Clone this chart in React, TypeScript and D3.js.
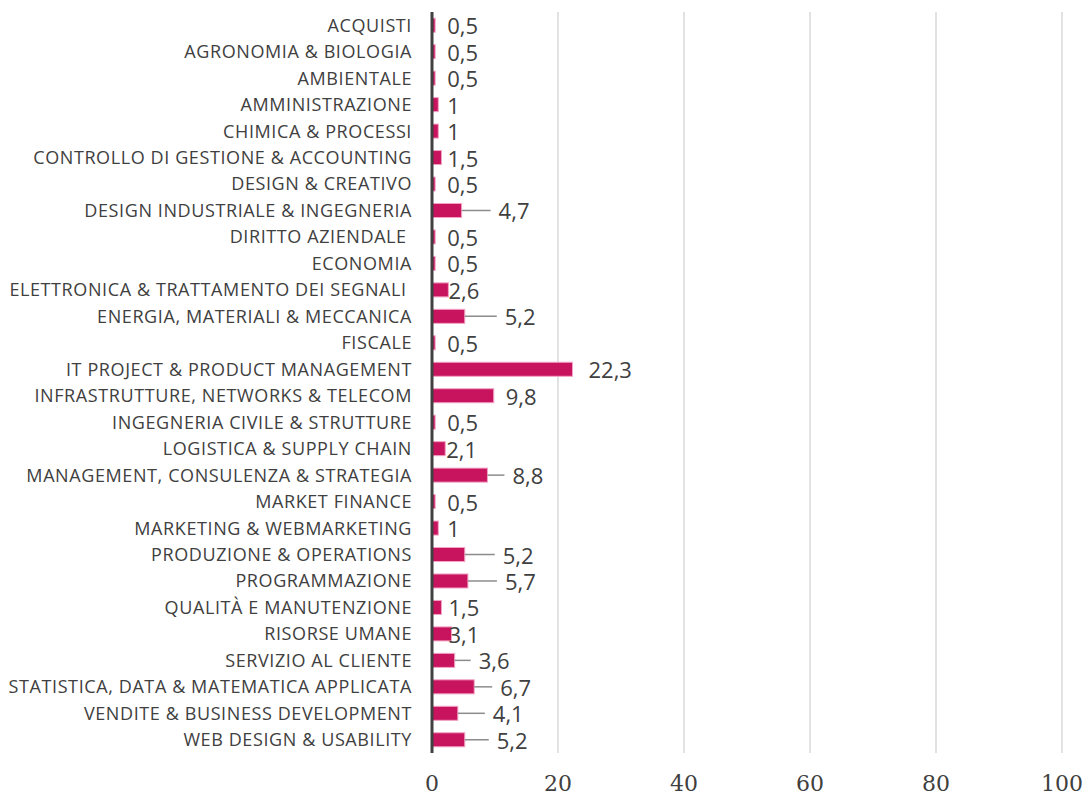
import React from "react";
import * as d3 from "d3";

const categories = [
  "ACQUISTI",
  "AGRONOMIA & BIOLOGIA",
  "AMBIENTALE",
  "AMMINISTRAZIONE",
  "CHIMICA & PROCESSI",
  "CONTROLLO DI GESTIONE & ACCOUNTING",
  "DESIGN & CREATIVO",
  "DESIGN INDUSTRIALE & INGEGNERIA",
  "DIRITTO AZIENDALE ",
  "ECONOMIA",
  "ELETTRONICA & TRATTAMENTO DEI SEGNALI ",
  "ENERGIA, MATERIALI & MECCANICA",
  "FISCALE",
  "IT PROJECT & PRODUCT MANAGEMENT",
  "INFRASTRUTTURE, NETWORKS & TELECOM",
  "INGEGNERIA CIVILE & STRUTTURE",
  "LOGISTICA & SUPPLY CHAIN",
  "MANAGEMENT, CONSULENZA & STRATEGIA",
  "MARKET FINANCE",
  "MARKETING & WEBMARKETING",
  "PRODUZIONE & OPERATIONS",
  "PROGRAMMAZIONE",
  "QUALITÀ E MANUTENZIONE",
  "RISORSE UMANE",
  "SERVIZIO AL CLIENTE",
  "STATISTICA, DATA & MATEMATICA APPLICATA",
  "VENDITE & BUSINESS DEVELOPMENT",
  "WEB DESIGN & USABILITY",
];

const values = [
  0.5, 0.5, 0.5, 1, 1, 1.5, 0.5, 4.7, 0.5, 0.5, 2.6, 5.2, 0.5, 22.3, 9.8, 0.5,
  2.1, 8.8, 0.5, 1, 5.2, 5.7, 1.5, 3.1, 3.6, 6.7, 4.1, 5.2,
];

const valueLabels = values.map((v) => String(v).replace(".", ","));

const xTicks = [0, 20, 40, 60, 80, 100];

// label placement offsets (px from bar end) and whether a leader line is drawn
const labelOffset = [
  12, 12, 12, 9, 9, 6, 12, 37, 12, 12, 0, 40, 12, 16, 12, 12, 1, 25, 12, 9, 38,
  37, 7, -3, 24, 26, 35, 32,
];
const hasLeader = [
  0, 0, 0, 0, 0, 0, 0, 1, 0, 0, 0, 1, 0, 0, 0, 0, 0, 1, 0, 0, 1, 1, 0, 0, 1, 1,
  1, 1,
];

export default function App() {
  const W = 1088;
  const H = 796;
  const x = d3.scaleLinear().domain([0, 100]).range([432, 1062]);
  const y = d3
    .scaleBand<string>()
    .domain(categories)
    .range([12, 753])
    .paddingInner(0.47)
    .paddingOuter(0.235);
  const textColor = "#404040";

  return (
    <svg
      width={W}
      height={H}
      style={{ position: "absolute", left: 0, top: 0, background: "#fff" }}
    >
      {xTicks.slice(1).map((t) => (
        <line
          key={"g" + t}
          x1={x(t)}
          x2={x(t)}
          y1={12}
          y2={753}
          stroke="#D9D9D9"
          strokeWidth={1.5}
        />
      ))}
      {categories.map((c, i) => {
        const yc = (y(c) as number) + y.bandwidth() / 2;
        const x0 = x(0);
        const x1 = x(values[i]);
        const lx = x1 + labelOffset[i];
        return (
          <g key={c}>
            <rect
              x={x0}
              y={y(c)}
              width={x1 - x0}
              height={y.bandwidth()}
              fill="#C8135F"
              stroke="#F2A3C4"
              strokeWidth={1}
            />
            {hasLeader[i] ? (
              <line
                x1={x1}
                x2={lx - 8}
                y1={yc}
                y2={yc}
                stroke="#8C8C8C"
                strokeWidth={1.5}
              />
            ) : null}
            <text
              x={lx}
              y={yc + 9}
              fontFamily="'Open Sans', sans-serif"
              fontSize={22}
              fill={textColor}
            >
              {valueLabels[i]}
            </text>
            <text
              x={412}
              y={yc}
              dy="0.36em"
              textAnchor="end"
              fontFamily="'Open Sans', sans-serif"
              fontSize={18}
              letterSpacing={0.6}
              fill={textColor}
              xmlSpace="preserve"
              style={{ whiteSpace: "pre" }}
            >
              {c}
            </text>
          </g>
        );
      })}
      <line
        x1={x(0)}
        x2={x(0)}
        y1={12}
        y2={753}
        stroke="#404040"
        strokeWidth={3}
      />
      {xTicks.map((t) => (
        <text
          key={"t" + t}
          x={x(t)}
          y={791}
          textAnchor="middle"
          fontFamily="'DejaVu Serif', serif"
          fontSize={22}
          fill={textColor}
        >
          {t}
        </text>
      ))}
    </svg>
  );
}
